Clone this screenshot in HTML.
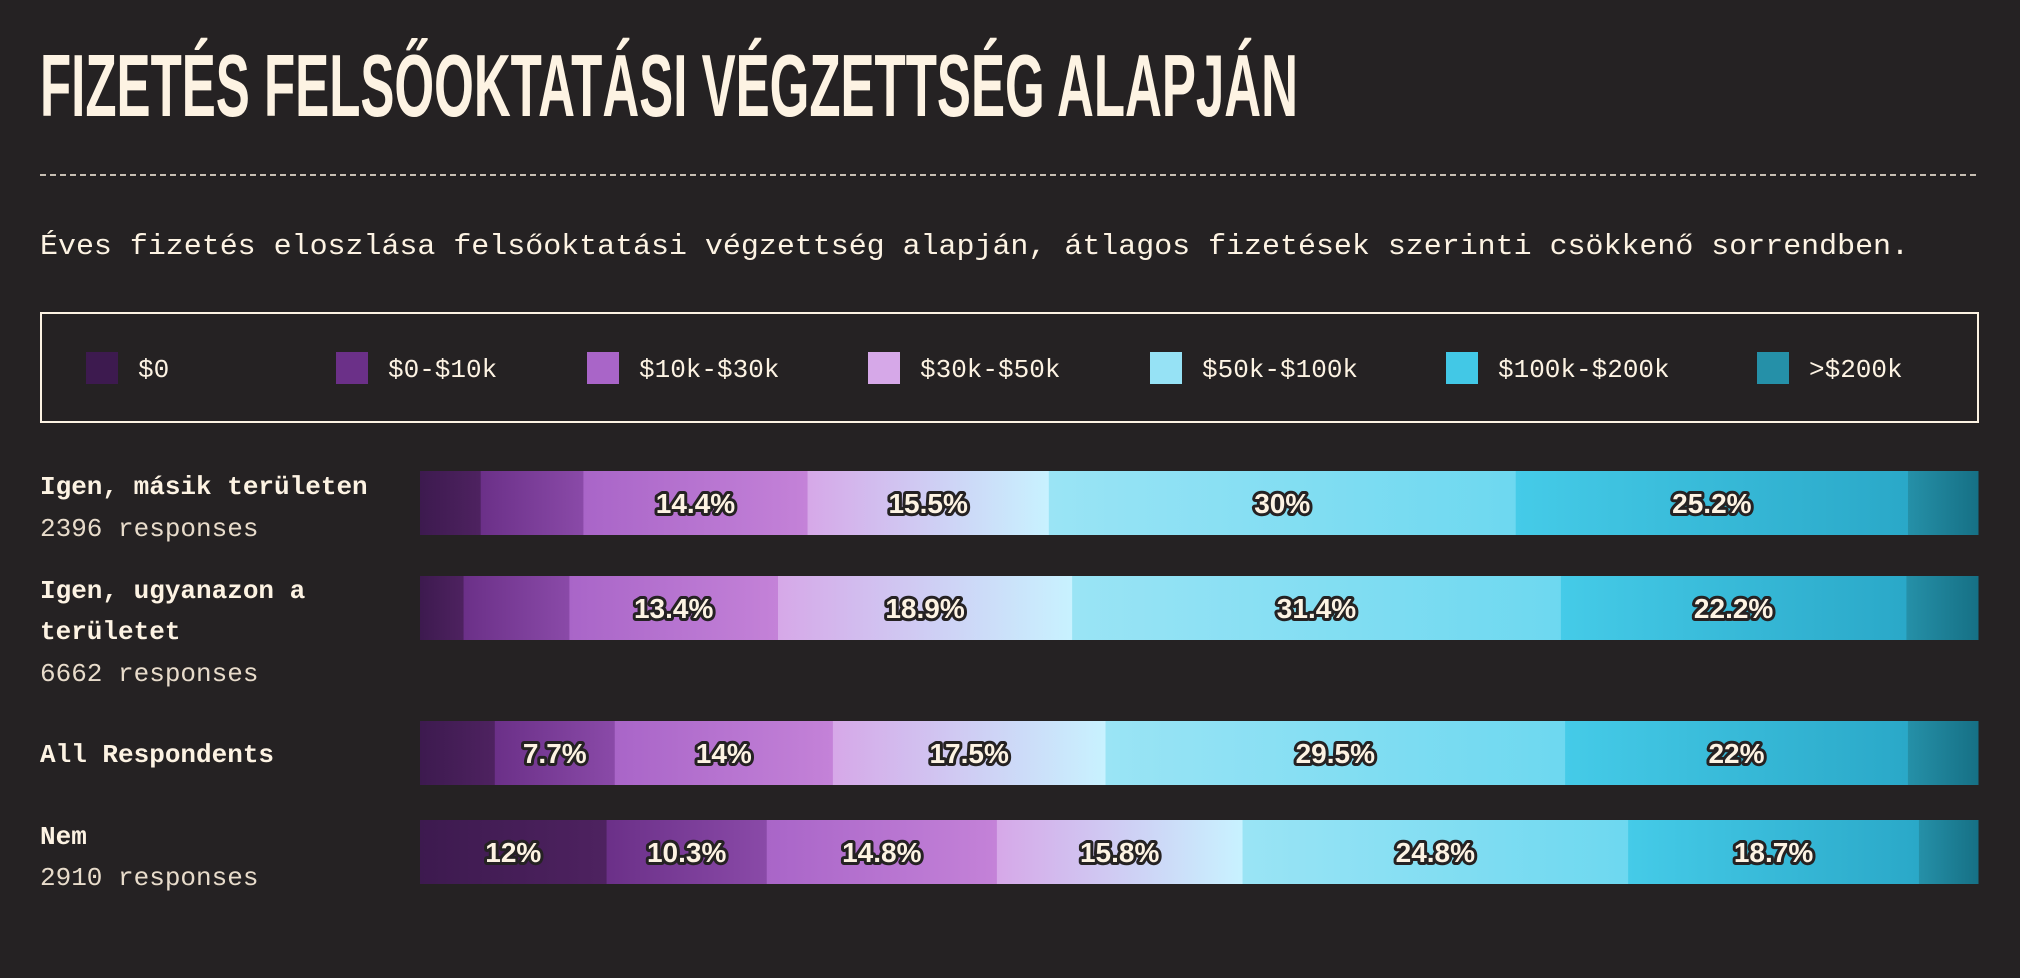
<!DOCTYPE html>
<html><head><meta charset="utf-8"><style>
html,body{margin:0;padding:0;background:#252223;}
svg{display:block}
</style></head><body>
<svg id="chart" width="2020" height="978" viewBox="0 0 2020 978" xmlns="http://www.w3.org/2000/svg">
<rect x="0" y="0" width="2020" height="978" fill="#252223"/>
<text x="40" y="116" font-family="Liberation Sans, sans-serif" font-weight="bold" font-size="88" fill="#fdf3e3" textLength="1258" lengthAdjust="spacingAndGlyphs">FIZETÉS FELSŐOKTATÁSI VÉGZETTSÉG ALAPJÁN</text>
<line x1="40" y1="175" x2="1978" y2="175" stroke="#fdf3e3" stroke-width="1.5" stroke-dasharray="6 4"/>
<text x="40" y="254" font-family="Liberation Mono, monospace" font-size="29" fill="#fdf3e3" textLength="1869" lengthAdjust="spacingAndGlyphs">Éves fizetés eloszlása felsőoktatási végzettség alapján, átlagos fizetések szerinti csökkenő sorrendben.</text>
<rect x="41" y="313" width="1937" height="109" fill="none" stroke="#fdf3e3" stroke-width="2"/>
<defs id="grads"></defs>
<g id="legend"></g>
<g id="rows"></g>
</svg>
<script>
const categories = ["$0", "$0-$10k", "$10k-$30k", "$30k-$50k", "$50k-$100k", "$100k-$200k", ">$200k"];
const rowLabels = [["Igen, másik területen"], ["Igen, ugyanazon a", "területet"], ["All Respondents"], ["Nem"]];
const rowResponses = ["2396 responses", "6662 responses", "", "2910 responses"];
const seriesIgenMasik = [3.9, 6.6, 14.4, 15.5, 30, 25.2, 4.5];
const seriesIgenUgyanazon = [2.8, 6.8, 13.4, 18.9, 31.4, 22.2, 4.6];
const seriesAll = [4.8, 7.7, 14, 17.5, 29.5, 22, 4.5];
const seriesNem = [12, 10.3, 14.8, 15.8, 24.8, 18.7, 3.8];
const series = [seriesIgenMasik, seriesIgenUgyanazon, seriesAll, seriesNem];

const NS = "http://www.w3.org/2000/svg";
const colStart = ["#3d1a4f","#6b3088","#a965c8","#d6a8e8","#9ae4f5","#45cbe8","#2590a8"];
const colEnd   = ["#4e2260","#8a4aa8","#c482d8","#c8f2ff","#6dd8f0","#2aa8c8","#167085"];
const swatch   = ["#3d1a4f","#6b3088","#a965c8","#d6a8e8","#96e2f5","#42c8e6","#2590a8"];
const legendX = [86, 336, 587, 868, 1150, 1446, 1757];
const barX0 = 420, barX1 = 1978, barH = 64;
const rowY = [471, 576, 721, 820];
const labelLines = [[485], [589, 630], [753], [835]];
const respY = [527, 672, 0, 876];

function mk(tag, attrs, parent){ const e=document.createElementNS(NS,tag); for(const k in attrs) e.setAttribute(k,attrs[k]); parent.appendChild(e); return e; }
const defs=document.getElementById('grads'), lg=document.getElementById('legend'), rows=document.getElementById('rows');
categories.forEach((c,i)=>{
  const g=mk('linearGradient',{id:'g'+i,x1:'0',x2:'1',y1:'0',y2:'0'},defs);
  mk('stop',{offset:'0','stop-color':colStart[i]},g); mk('stop',{offset:'1','stop-color':colEnd[i]},g);
  const s=mk('rect',{x:legendX[i],y:352,width:32,height:32,fill:swatch[i]},lg);
  
  
  const t=mk('text',{x:legendX[i]+52,y:377,'font-family':'Liberation Mono, monospace','font-size':'26',fill:'#fdf3e3'},lg);
  t.textContent=c;
  
  
});
const xScale = v => v/100*(barX1-barX0);
series.forEach((vals,r)=>{
  const total = vals.reduce((a,b)=>a+b,0);
  rowLabels[r].forEach((ln,j)=>{
    const t=mk('text',{x:40,y:labelLines[r][j]+9,'font-family':'Liberation Mono, monospace','font-weight':'bold','font-size':'26',fill:'#fdf3e3'},rows);
    t.textContent=ln;
    
    
  });
  if(rowResponses[r]){
    const t=mk('text',{x:40,y:respY[r]+9,'font-family':'Liberation Mono, monospace','font-size':'26',fill:'#e8dccb'},rows);
    t.textContent=rowResponses[r];
    
    
  }
  let x=barX0;
  vals.forEach((v,i)=>{
    const w = xScale(v*100/total);
    const rc=mk('rect',{x:x,y:rowY[r],width:w+0.5,height:barH,fill:'url(#g'+i+')'},rows);
    
    
    if(v>=7){
      const t=mk('text',{x:x+w/2,y:rowY[r]+barH/2+10,'text-anchor':'middle','font-family':'Liberation Sans, sans-serif','font-weight':'bold','font-size':'28',fill:'#fdf3e3',stroke:'#252223','stroke-width':'6','paint-order':'stroke','stroke-linejoin':'round'},rows);
      t.textContent=v+'%';
      
      
    }
    x+=w;
  });
});
</script>
</body></html>
